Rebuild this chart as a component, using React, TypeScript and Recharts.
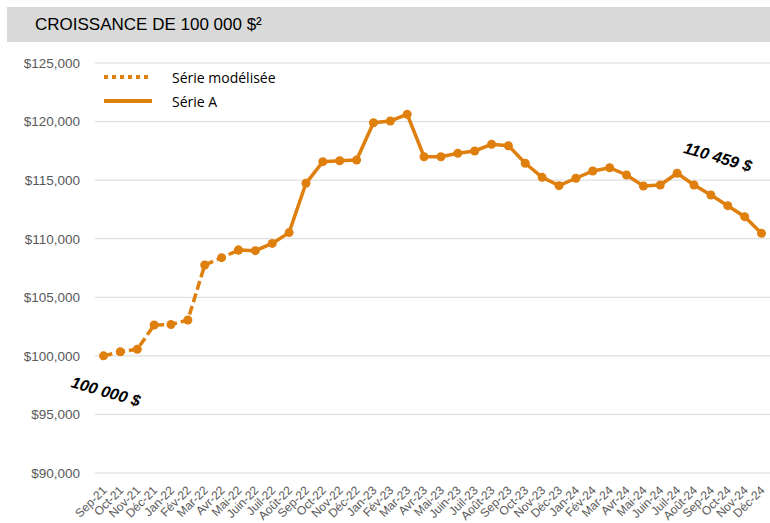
import { LineChart, Line, XAxis, YAxis, CartesianGrid, Legend } from 'recharts';

const months = [
  'Sep-21', 'Oct-21', 'Nov-21', 'Déc-21',
  'Jan-22', 'Fév-22', 'Mar-22', 'Avr-22', 'Mai-22', 'Juin-22', 'Juil-22', 'Août-22', 'Sep-22', 'Oct-22', 'Nov-22', 'Déc-22',
  'Jan-23', 'Fév-23', 'Mar-23', 'Avr-23', 'Mai-23', 'Juin-23', 'Juil-23', 'Août-23', 'Sep-23', 'Oct-23', 'Nov-23', 'Déc-23',
  'Jan-24', 'Fév-24', 'Mar-24', 'Avr-24', 'Mai-24', 'Juin-24', 'Juil-24', 'Août-24', 'Sep-24', 'Oct-24', 'Nov-24', 'Déc-24',
];

// modelled part (Sep-21 .. Mai-22)
const modeled = [100000, 100350, 100560, 102630, 102680, 103060, 107760, 108380, 109030];

// Série A, starts at Mai-22
const serieA = [
  109030, 108980, 109600, 110520, 114730, 116580, 116660, 116720,
  119900, 120050, 120620, 117000, 117000, 117290, 117490, 118060,
  117940, 116440, 115240, 114530, 115160, 115780, 116060, 115440,
  114500, 114590, 115590, 114590, 113730, 112820, 111880, 110459,
];

const yTicks = [90000, 95000, 100000, 105000, 110000, 115000, 120000, 125000];

const START_A = months.length - serieA.length;

const data = months.map((m, i) => ({
  month: m,
  modeled: i < modeled.length ? modeled[i] : null,
  serieA: i >= START_A ? serieA[i - START_A] : null,
}));

const ORANGE = '#DF7F0E';
const FONT = '"Liberation Sans", Arial, sans-serif';

const fmtMoney = (v: number) => '$' + v.toLocaleString('en-US');

const XTick = ({ x, y, payload }: any) => (
  <g transform={`translate(${x + 1},${y + 13})`}>
    <text textAnchor="end" transform="rotate(-45)" fontSize={12} fill="#595959" fontFamily={FONT} dy="0.35em">
      {payload.value}
    </text>
  </g>
);

const StartLabel = (props: any) => {
  if (props.index !== 0) return <g />;
  const cx = props.x + 2;
  const cy = props.y + 37;
  return (
    <text
      x={cx}
      y={cy}
      transform={`rotate(16, ${cx}, ${cy})`}
      textAnchor="middle"
      dominantBaseline="middle"
      fontSize={16}
      fontWeight="bold"
      fontStyle="italic"
      fontFamily={FONT}
      fill="#000"
    >
      100 000 $
    </text>
  );
};

const EndLabel = (props: any) => {
  if (props.index !== months.length - 1) return <g />;
  const cx = props.x - 44;
  const cy = props.y - 75;
  return (
    <text
      x={cx}
      y={cy}
      transform={`rotate(16, ${cx}, ${cy})`}
      textAnchor="middle"
      dominantBaseline="middle"
      fontSize={16}
      fontWeight="bold"
      fontStyle="italic"
      fontFamily={FONT}
      fill="#000"
    >
      110 459 $
    </text>
  );
};

// height 0 root so the legend doesn't eat into the plot area
const LegendBox = ({ payload }: any) => {
  const items = [...(payload || [])].sort((a: any, b: any) => (a.dataKey === 'modeled' ? -1 : b.dataKey === 'modeled' ? 1 : 0));
  return (
    <div style={{ height: 0, overflow: 'visible' }}>
      <div style={{ fontFamily: '"Open Sans", sans-serif', fontSize: 14, color: '#000', background: '#fff', display: 'inline-block' }}>
        {items.map((p: any) => (
          <div key={p.value} style={{ display: 'flex', alignItems: 'center', height: 24 }}>
            <svg width={48} height={8} style={{ marginRight: 20 }}>
              <line
                x1={0}
                y1={4}
                x2={48}
                y2={4}
                stroke={ORANGE}
                strokeWidth={4}
                strokeDasharray={p.dataKey === 'modeled' ? '4 4' : undefined}
                strokeLinecap={p.dataKey === 'modeled' ? 'butt' : 'round'}
              />
            </svg>
            <span>{p.value}</span>
          </div>
        ))}
      </div>
    </div>
  );
};

export default function App() {
  return (
    <div style={{ position: 'absolute', left: 0, top: 0, width: 770, height: 523, background: '#fff' }}>
      <div
        style={{
          position: 'absolute',
          left: 7,
          top: 7,
          width: 763,
          height: 35,
          background: '#D9D9D9',
          fontFamily: FONT,
          fontSize: 17,
          color: '#000',
          display: 'flex',
          alignItems: 'center',
          paddingLeft: 28,
          boxSizing: 'border-box',
        }}
      >
        CROISSANCE DE 100 000 $²
      </div>
      <LineChart width={770} height={523} data={data} margin={{ top: 63, right: 0, bottom: 0, left: 0 }}>
        <CartesianGrid vertical={false} stroke="#D9D9D9" strokeWidth={1} />
        <XAxis
          dataKey="month"
          interval={0}
          height={50}
          axisLine={false}
          tickLine={false}
          tickSize={0}
          padding={{ left: 8.5, right: 8.5 }}
          tick={<XTick />}
        />
        <YAxis
          width={95}
          domain={[90000, 125000]}
          ticks={yTicks}
          tickFormatter={fmtMoney}
          axisLine={false}
          tickLine={false}
          tickSize={0}
          tickMargin={15}
          tick={{ fontSize: 13.5, fill: '#595959', fontFamily: FONT }}
        />
        <Legend
          verticalAlign="top"
          align="left"
          content={<LegendBox />}
          wrapperStyle={{ position: 'absolute', left: 104, top: 65, width: 'auto', height: 0 }}
        />
        <Line
          name="Série modélisée"
          dataKey="modeled"
          stroke={ORANGE}
          strokeWidth={3.5}
          strokeDasharray="9 4"
          dot={{ r: 4.5, fill: ORANGE, stroke: ORANGE, strokeWidth: 0 }}
          activeDot={false}
          connectNulls={false}
          isAnimationActive={false}
          label={<StartLabel />}
        />
        <Line
          name="Série A"
          dataKey="serieA"
          stroke={ORANGE}
          strokeWidth={3.5}
          dot={{ r: 4.5, fill: ORANGE, stroke: ORANGE, strokeWidth: 0 }}
          activeDot={false}
          connectNulls={false}
          isAnimationActive={false}
          label={<EndLabel />}
        />
      </LineChart>
    </div>
  );
}
